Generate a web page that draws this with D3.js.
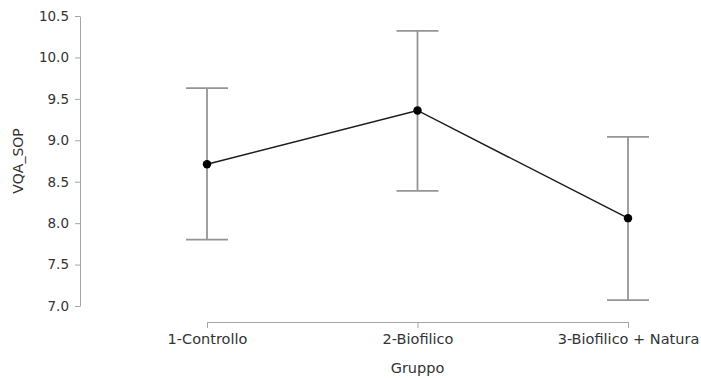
<!DOCTYPE html>
<html>
<head>
<meta charset="utf-8">
<script src="https://cdn.jsdelivr.net/npm/d3@7/dist/d3.min.js"></script>
<style>
  html, body { margin: 0; padding: 0; background: #fff; }
  svg { display: block; }
  svg text { font-family: "DejaVu Sans", "Lucida Grande", sans-serif; }
</style>
</head>
<body>
<svg id="chart" width="701" height="378"></svg>
<script>
// Group means of VQA_SOP with 95% confidence intervals
const groups = ["1-Controllo", "2-Biofilico", "3-Biofilico + Natura"];
const means = [8.71, 9.36, 8.06];
const lower = [7.80, 8.39, 7.07];
const upper = [9.63, 10.32, 9.04];
const yTicks = [7.0, 7.5, 8.0, 8.5, 9.0, 9.5, 10.0, 10.5];

const svg = d3.select("#chart");

const x = d3.scalePoint().domain(groups).range([207, 628]);
const y = d3.scaleLinear().domain([7.0, 10.5]).range([306, 16]);

const axisColor = "#a6a6a6";
const textColor = "#333";
const fontFamily = "DejaVu Sans, Lucida Grande, sans-serif";

// Y axis
const yAxis = svg.append("g")
  .attr("transform", "translate(80,0)")
  .call(d3.axisLeft(y).tickValues(yTicks).tickFormat(d3.format(".1f")).tickSize(5).tickSizeOuter(0).tickPadding(6))
  .attr("font-family", fontFamily)
  .attr("font-size", 13.5);
yAxis.select(".domain").attr("stroke", axisColor);
yAxis.selectAll(".tick line").attr("stroke", axisColor);
yAxis.selectAll(".tick text").attr("fill", textColor);

// X axis
const xAxis = svg.append("g")
  .attr("transform", "translate(0,322)")
  .call(d3.axisBottom(x).tickSize(6).tickSizeOuter(0).tickPadding(6))
  .attr("font-family", fontFamily)
  .attr("font-size", 14.5);
xAxis.select(".domain").attr("stroke", axisColor);
xAxis.selectAll(".tick line").attr("stroke", axisColor);
xAxis.selectAll(".tick text").attr("fill", textColor);

// Axis titles
svg.append("text")
  .attr("transform", "translate(18," + y(8.75) + ") rotate(-90)")
  .attr("text-anchor", "middle")
  .attr("dominant-baseline", "central")
  .attr("fill", textColor)
  .style("font-size", "14px")
  .text("VQA_SOP");

svg.append("text")
  .attr("x", x(groups[1]))
  .attr("y", 368)
  .attr("text-anchor", "middle")
  .attr("dominant-baseline", "central")
  .attr("fill", textColor)
  .style("font-size", "14.5px")
  .text("Gruppo");

// Error bars
const data = groups.map((g, i) => ({ g, m: means[i], lo: lower[i], hi: upper[i] }));
const capHalf = 21;
const eb = svg.append("g").attr("stroke", "#959595").attr("stroke-width", 1.8);
eb.selectAll("line.stem").data(data).join("line")
  .attr("class", "stem")
  .attr("x1", d => x(d.g)).attr("x2", d => x(d.g))
  .attr("y1", d => y(d.lo)).attr("y2", d => y(d.hi));
eb.selectAll("line.capTop").data(data).join("line")
  .attr("class", "capTop")
  .attr("x1", d => x(d.g) - capHalf).attr("x2", d => x(d.g) + capHalf)
  .attr("y1", d => y(d.hi)).attr("y2", d => y(d.hi));
eb.selectAll("line.capBot").data(data).join("line")
  .attr("class", "capBot")
  .attr("x1", d => x(d.g) - capHalf).attr("x2", d => x(d.g) + capHalf)
  .attr("y1", d => y(d.lo)).attr("y2", d => y(d.lo));

// Line connecting means
svg.append("path")
  .datum(data)
  .attr("fill", "none")
  .attr("stroke", "#1a1a1a")
  .attr("stroke-width", 1.5)
  .attr("d", d3.line().x(d => x(d.g)).y(d => y(d.m)));

// Mean points
svg.selectAll("circle.mean").data(data).join("circle")
  .attr("class", "mean")
  .attr("cx", d => x(d.g))
  .attr("cy", d => y(d.m))
  .attr("r", 4.2)
  .attr("fill", "#000");
</script>
</body>
</html>
